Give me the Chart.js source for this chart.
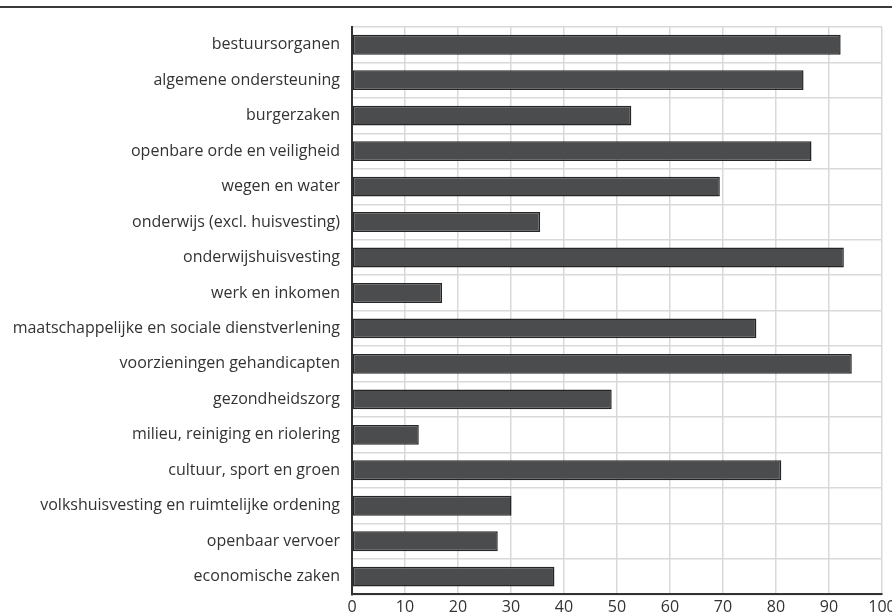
<!DOCTYPE html>
<html lang="nl">
<head>
<meta charset="UTF-8"/>
<title>Taakvelden</title>
<script src="https://cdn.jsdelivr.net/npm/chart.js@4.4.1/dist/chart.umd.min.js"></script>
<style>
  body{margin:0;background:#fff}
  #topline{position:absolute;left:0;top:6px;width:892px;height:2px;background:#3a3a3a}
  #box{position:absolute;left:0;top:0;width:892px;height:616px}
</style>
</head>
<body>
<div id="topline"></div>
<div id="box"><canvas id="chart"></canvas></div>
<script>
const categories = [
  'bestuursorganen',
  'algemene ondersteuning',
  'burgerzaken',
  'openbare orde en veiligheid',
  'wegen en water',
  'onderwijs (excl. huisvesting)',
  'onderwijshuisvesting',
  'werk en inkomen',
  'maatschappelijke en sociale dienstverlening',
  'voorzieningen gehandicapten',
  'gezondheidszorg',
  'milieu, reiniging en riolering',
  'cultuur, sport en groen',
  'volkshuisvesting en ruimtelijke ordening',
  'openbaar vervoer',
  'economische zaken'
];
const values = [92.2, 85.2, 52.7, 86.7, 69.4, 35.5, 92.8, 17.0, 76.3, 94.3, 49.0, 12.6, 81.0, 30.1, 27.5, 38.2];
const xMin = 0, xMax = 100, xStep = 10;

const ctx = document.getElementById('chart').getContext('2d');
new Chart(ctx, {
  type: 'bar',
  data: {
    labels: categories,
    datasets: [{
      data: values,
      backgroundColor: '#4b4c4e',
      borderColor: '#262626',
      borderWidth: 1.5,
      borderSkipped: false,
      categoryPercentage: 1,
      barPercentage: 0.56
    }]
  },
  options: {
    indexAxis: 'y',
    responsive: true,
    maintainAspectRatio: false,
    animation: false,
    layout: {padding: {top: 27, right: 10, bottom: -4, left: 0}},
    plugins: {legend: {display: false}, tooltip: {enabled: false}},
    scales: {
      x: {
        min: xMin, max: xMax,
        ticks: {stepSize: xStep, color: '#333', padding: 3, font: {family: 'Open Sans', size: 16}},
        grid: {color: '#d9d9d9', lineWidth: 1.5, drawTicks: false},
        border: {color: '#333', width: 2},
        afterFit: s => { s.paddingRight = 0; }
      },
      y: {
        ticks: {color: '#333', padding: 12, font: {family: 'Open Sans', size: 16}},
        grid: {color: '#d9d9d9', lineWidth: 1.5, drawTicks: false, offset: true},
        border: {color: '#333', width: 2},
        afterFit: s => { s.width = 352; }
      }
    }
  }
});
</script>
</body>
</html>
